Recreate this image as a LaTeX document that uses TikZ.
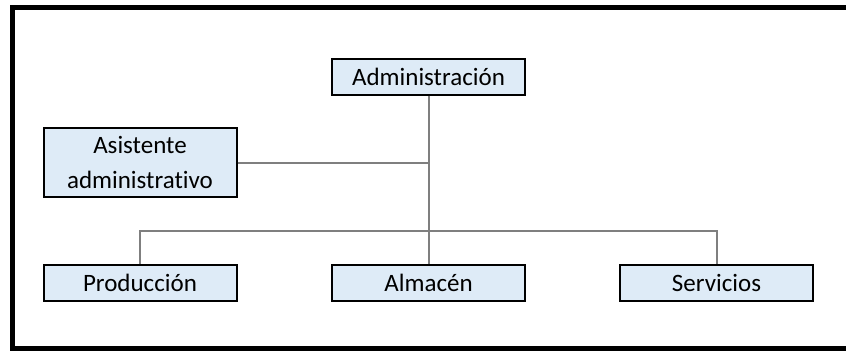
\documentclass[tikz,border=0pt]{standalone}
\usepackage{fontspec}
\setmainfont{Carlito}[Ligatures=NoCommon]
\definecolor{boxfill}{HTML}{DEEBF7}
\definecolor{linegray}{HTML}{7F7F7F}
\begin{document}
\begin{tikzpicture}[x=1pt, y=-1pt]
		\tikzset{bx/.style={rectangle, draw=black, line width=2pt, fill=boxfill, minimum width=193pt, minimum height=36pt, inner sep=0pt, align=center, font=\fontsize{25}{35}\selectfont}};
		\tikzset{ln/.style={draw=linegray, line width=2pt}};

		\useasboundingbox (0, 0) rectangle (846, 351);
		\clip (0, 0) rectangle (846, 351);
		\draw[line width=5pt] (12.5, 7) rectangle (870, 348);

		\node[bx] (adm) at (428.5, 76.5) {Administración};
		\node[bx, minimum height=69pt] (asi) at (140, 162.5) {Asistente\\administrativo};
		\node[bx] (pro) at (140, 283) {Producción};
		\node[bx] (alm) at (428.5, 283) {Almacén};
		\node[bx] (ser) at (716.5, 283) {Servicios};

		\coordinate (bus) at (428.5, 231);

		\draw[ln] (adm) to (alm);
		\draw[ln] (asi) to (asi -| adm);
		\draw[ln] (pro) |- (bus) -| (ser);
	\end{tikzpicture}
\end{document}
